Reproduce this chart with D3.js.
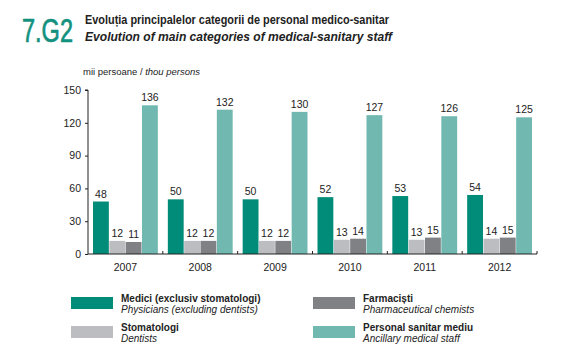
<!DOCTYPE html>
<html><head><meta charset="utf-8">
<script src="https://cdn.jsdelivr.net/npm/d3@7"></script>
<style>body{margin:0;background:#fff}svg{font-family:"Liberation Sans",Arial,sans-serif}</style>
</head><body>
<svg id="c" width="571" height="357"></svg>
<script>
const years = ["2007","2008","2009","2010","2011","2012"];
const seriesNames = ["medici","stomatologi","farmacisti","personal"];
const medici = [48,50,50,52,53,54];
const stomatologi = [12,12,12,13,13,14];
const farmacisti = [11,12,12,14,15,15];
const personal = [136,132,130,127,126,125];
const yTicks = [0,30,60,90,120,150];
const colors = ["#008c79","#bcbdc0","#808184","#71b8b1"];
const legendBold = ["Medici (exclusiv stomatologi)","Stomatologi","Farmaciști","Personal sanitar mediu"];
const legendItalic = ["Physicians (excluding dentists)","Dentists","Pharmaceutical chemists","Ancillary medical staff"];

const values = [medici, stomatologi, farmacisti, personal];
const svg = d3.select("#c");

// Header
svg.append("text").attr("x",22).attr("y",42).attr("fill","#13917f")
  .attr("font-size",33).attr("stroke","#13917f").attr("stroke-width",0.7)
  .attr("textLength",51).attr("lengthAdjust","spacingAndGlyphs").text("7.G2");
svg.append("text").attr("x",85).attr("y",24).attr("font-size",12.2).attr("font-weight","bold").attr("fill","#222")
  .attr("textLength",304).attr("lengthAdjust","spacingAndGlyphs").text("Evoluția principalelor categorii de personal medico-sanitar");
svg.append("text").attr("x",85).attr("y",41).attr("font-size",12.2).attr("font-weight","bold").attr("font-style","italic").attr("fill","#222")
  .attr("textLength",307).attr("lengthAdjust","spacingAndGlyphs").text("Evolution of main categories of medical-sanitary staff");
const unit = svg.append("text").attr("x",83).attr("y",75).attr("font-size",8.5).attr("fill","#222")
  .attr("textLength",117).attr("lengthAdjust","spacingAndGlyphs");
unit.append("tspan").text("mii persoane / ");
unit.append("tspan").attr("font-style","italic").text("thou persons");

const x0 = d3.scaleBand().domain(years).range([88,537]);
const x1 = d3.scaleBand().domain(seriesNames).range([5,x0.bandwidth()-5]).paddingInner(0.03);
const y = d3.scaleLinear().domain([0,150]).range([254,90]);

const g = svg.append("g");
years.forEach((yr,i)=>{
  seriesNames.forEach((s,j)=>{
    const v = values[j][i];
    g.append("rect").attr("x",x0(yr)+x1(s)).attr("y",y(v)).attr("width",x1.bandwidth())
      .attr("height",y(0)-y(v)).attr("fill",colors[j]);
    g.append("text").attr("x",x0(yr)+x1(s)+x1.bandwidth()/2).attr("y",y(v)-4)
      .attr("text-anchor","middle").attr("font-size",10.5).attr("fill","#222").text(v);
  });
});

// Y axis
const ya = svg.append("g").attr("transform","translate(88,0)")
  .call(d3.axisLeft(y).tickValues(yTicks).tickSize(3).tickPadding(4));
ya.select(".domain").attr("stroke","#222").attr("d","M-3,"+y(150)+"H0V"+y(0));
ya.selectAll(".tick line").attr("stroke","#222");
ya.selectAll(".tick text").attr("font-size",10.5).attr("fill","#222").attr("font-family","Liberation Sans, Arial, sans-serif");

// X axis
const xa = svg.append("g").attr("transform","translate(0,254)")
  .call(d3.axisBottom(x0).tickSize(0).tickPadding(10));
xa.select(".domain").attr("stroke","#222").attr("d","M88,0H537");
xa.selectAll(".tick text").attr("font-size",10.5).attr("fill","#222").attr("font-family","Liberation Sans, Arial, sans-serif");
years.slice(1).concat(["end"]).forEach((yr,i)=>{
  const xx = yr==="end" ? 537 : x0(yr);
  xa.append("line").attr("x1",xx).attr("x2",xx).attr("y1",0).attr("y2",-3).attr("stroke","#222");
});

// Legend
const legPos = [[71,297],[71,326],[313,297],[313,326]];
legPos.forEach((p,i)=>{
  svg.append("rect").attr("x",p[0]).attr("y",p[1]).attr("width",42).attr("height",12).attr("fill",colors[i]);
  svg.append("text").attr("x",p[0]+50).attr("y",p[1]+5).attr("font-size",10).attr("font-weight","bold").attr("fill","#222").text(legendBold[i]);
  svg.append("text").attr("x",p[0]+50).attr("y",p[1]+16).attr("font-size",10).attr("font-style","italic").attr("fill","#222").text(legendItalic[i]);
});
</script>
</body></html>
